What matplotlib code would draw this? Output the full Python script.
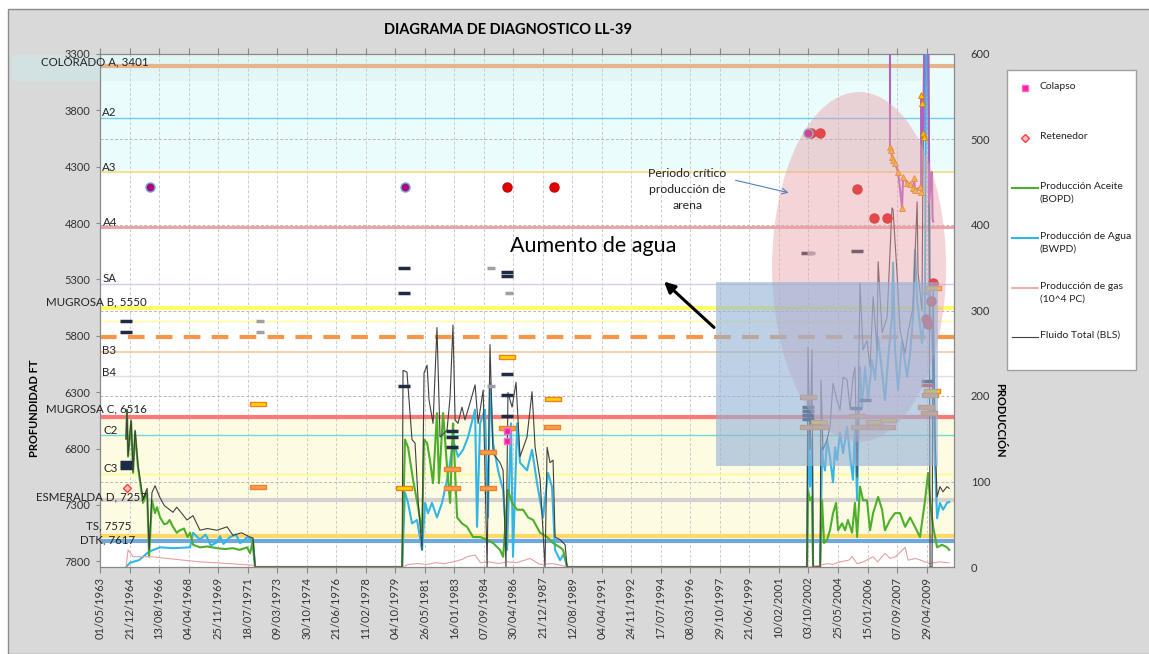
import datetime as dt

import matplotlib
matplotlib.use("Agg")
import matplotlib.dates as mdates
import matplotlib.pyplot as plt
import numpy as np
from matplotlib.lines import Line2D
from matplotlib.patches import Ellipse, Rectangle

plt.rcParams["font.family"] = ["Lato", "DejaVu Sans"]

W, H = 1149, 654

# ---- datos de produccion (tiempo en anos decimales, valores en eje derecho) ----
oil_t = [1964.78, 1964.83, 1964.89, 1965.06, 1965.17, 1965.28, 1965.44, 1965.72, 1965.95, 1966.06,
         1966.22, 1966.39, 1966.50, 1966.67, 1966.90, 1967.06, 1967.20, 1967.39, 1967.60, 1967.78,
         1968.00, 1968.20, 1968.34, 1968.51, 1968.89, 1969.30, 1969.84, 1970.30, 1970.73, 1971.10,
         1971.51, 1971.68, 1971.84, 1971.96,
         1980.14, 1980.30, 1980.47, 1980.75, 1981.03, 1981.25, 1981.36, 1981.53, 1981.69, 1981.86,
         1982.08, 1982.19, 1982.42, 1982.64, 1982.81, 1982.97, 1983.20, 1983.47, 1983.75, 1984.09,
         1984.48, 1984.87, 1985.20, 1985.59, 1985.76, 1986.03, 1986.26, 1986.54, 1986.87, 1987.15,
         1987.43, 1987.82, 1988.21, 1988.54, 1988.93, 1989.10, 1989.32,
         2002.67, 2002.73, 2002.84, 2002.95, 2003.01, 2003.40, 2003.51, 2003.62, 2003.79, 2003.95,
         2004.12, 2004.29, 2004.40, 2004.62, 2004.79, 2004.95, 2005.18, 2005.34, 2005.46, 2005.62,
         2005.79, 2006.01, 2006.18, 2006.35, 2006.63, 2006.85, 2007.01, 2007.29, 2007.57, 2007.85,
         2008.13, 2008.41, 2008.68, 2008.96, 2009.24, 2009.41, 2009.52, 2009.69, 2009.91, 2010.19,
         2010.46, 2010.58]
oil_v = [150, 184, 129, 170, 110, 158, 117, 75, 87, 12,
         78, 63, 70, 58, 50, 51, 55, 47, 40, 43,
         45, 35, 40, 26, 23, 24, 22, 21, 22, 20,
         23, 16, 32, 0,
         0, 149, 140, 102, 70, 40, 149, 145, 125, 98,
         180, 98, 180, 117, 75, 168, 58, 51, 47, 35,
         35, 32, 28, 20, 12, 90, 75, 67, 67, 58,
         55, 40, 35, 28, 23, 20, 0,
         0, 90, 78, 82, 0, 0, 78, 28, 32, 43,
         63, 75, 43, 51, 43, 55, 40, 75, 35, 94,
         78, 78, 43, 63, 82, 67, 43, 55, 63, 63,
         47, 58, 47, 35, 78, 110, 78, 47, 23, 26,
         23, 20]

water_t = [1964.78, 1965.00, 1965.50, 1966.06, 1966.67, 1967.39, 1968.34, 1968.51, 1968.89, 1969.20,
           1969.50, 1969.84, 1970.00, 1970.20, 1970.56, 1970.90, 1971.12, 1971.30, 1971.51, 1971.79,
           1971.96,
           1980.14, 1980.30, 1980.47, 1980.69, 1980.97, 1981.25, 1981.42, 1981.58, 1981.80, 1982.08,
           1982.36, 1982.64, 1982.81, 1982.97, 1983.25, 1983.53, 1983.81, 1984.20, 1984.31, 1984.48,
           1984.75, 1984.92, 1985.03, 1985.20, 1985.48, 1985.76, 1985.98, 1986.20, 1986.31, 1986.54,
           1986.70, 1987.09, 1987.37, 1987.65, 1987.98, 1988.26, 1988.48, 1988.65, 1988.93, 1989.10,
           1989.21, 1989.32,
           2002.67, 2002.73, 2002.84, 2002.95, 2003.01, 2003.40, 2003.51, 2003.56, 2003.67, 2003.79,
           2003.95, 2004.12, 2004.23, 2004.34, 2004.51, 2004.68, 2004.90, 2005.07, 2005.23, 2005.34,
           2005.46, 2005.51, 2005.62, 2005.73, 2005.90, 2006.07, 2006.29, 2006.46, 2006.63, 2006.85,
           2007.01, 2007.18, 2007.40, 2007.46, 2007.57, 2007.74, 2007.96, 2008.24, 2008.41, 2008.57,
           2008.68, 2008.80, 2009.07, 2009.24, 2009.30, 2009.41, 2009.52, 2009.69, 2009.80, 2009.91,
           2010.07, 2010.24, 2010.46, 2010.58]
water_v = [0, 5, 8, 18, 23, 22, 23, 40, 32, 38,
           25, 29, 36, 27, 35, 38, 28, 30, 35, 32,
           0,
           0, 87, 75, 51, 55, 20, 75, 63, 75, 58,
           75, 102, 122, 149, 129, 137, 152, 184, 47, 168,
           184, 58, 216, 145, 113, 90, 20, 168, 12, 168,
           122, 113, 137, 98, 58, 110, 94, 20, 8, 14,
           10, 0,
           0, 164, 94, 150, 0, 0, 140, 125, 113, 149,
           129, 99, 140, 125, 157, 133, 164, 129, 102, 164,
           78, 137, 234, 187, 234, 195, 242, 219, 269, 227,
           195, 242, 292, 356, 254, 207, 265, 222, 250, 292,
           371, 312, 262, 300, 650, 650, 300, 250, 120, 57,
           75, 67, 75, 76]

gas_t = [1964.78, 1964.89, 1965.17, 1966.22, 1967.06, 1968.89, 1970.50, 1971.84, 1971.96,
         1980.14, 1980.50, 1981.00, 1981.50, 1982.00, 1982.50, 1983.00, 1983.50, 1983.75, 1984.20,
         1984.50, 1985.00, 1985.50, 1986.00, 1986.50, 1987.26, 1987.80, 1988.50, 1989.00, 1989.32,
         2002.67, 2003.40, 2003.80, 2004.10, 2004.50, 2005.00, 2005.18, 2005.46, 2005.80, 2006.35,
         2006.60, 2007.01, 2007.30, 2007.60, 2008.13, 2008.30, 2008.70, 2009.00, 2009.50, 2010.00,
         2010.58]
gas_v = [0, 20, 12, 12, 10, 6, 4, 2, 0,
         0, 3, 4, 3, 5, 4, 6, 9, 12, 14,
         5, 6, 4, 6, 5, 10, 3, 4, 2, 0,
         0, 2, 4, 3, 6, 8, 12, 4, 6, 12,
         6, 16, 10, 12, 23, 8, 10, 8, 4, 6,
         5]

total_t = [1964.78, 1964.83, 1964.89, 1965.06, 1965.17, 1965.28, 1965.44, 1965.72, 1965.95, 1966.06,
           1966.22, 1966.39, 1966.67, 1966.90, 1967.39, 1967.60, 1968.17, 1968.50, 1968.89, 1969.30,
           1969.84, 1970.40, 1970.73, 1971.20, 1971.68, 1971.84, 1971.96,
           1980.14, 1980.19, 1980.41, 1980.69, 1980.86, 1981.03, 1981.25, 1981.36, 1981.53, 1981.64,
           1981.86, 1982.08, 1982.25, 1982.64, 1982.81, 1982.97, 1983.09, 1983.25, 1983.47, 1983.64,
           1983.92, 1984.20, 1984.37, 1984.65, 1984.87, 1985.03, 1985.20, 1985.59, 1985.76, 1985.92,
           1986.03, 1986.26, 1986.48, 1986.70, 1987.09, 1987.37, 1987.54, 1987.82, 1988.09, 1988.21,
           1988.37, 1988.54, 1988.65, 1988.93, 1989.21, 1989.32,
           2002.67, 2002.73, 2002.84, 2002.95, 2003.01, 2003.40, 2003.45, 2003.56, 2003.79, 2003.95,
           2004.12, 2004.34, 2004.51, 2004.68, 2004.90, 2005.07, 2005.23, 2005.34, 2005.46, 2005.62,
           2005.79, 2006.01, 2006.18, 2006.35, 2006.57, 2006.63, 2006.85, 2007.13, 2007.40, 2007.46,
           2007.68, 2007.85, 2008.13, 2008.29, 2008.57, 2008.80, 2008.85, 2009.07, 2009.18, 2009.41,
           2009.46, 2009.52, 2009.63, 2009.69, 2009.80, 2009.91, 2010.07, 2010.24, 2010.46, 2010.58]
total_v = [150, 184, 130, 172, 112, 160, 120, 80, 92, 20,
           87, 95, 81, 72, 64, 70, 55, 60, 43, 45,
           43, 47, 37, 40, 35, 34, 0,
           0, 230, 228, 149, 145, 78, 20, 227, 236, 195,
           168, 280, 152, 160, 199, 283, 172, 168, 187, 172,
           192, 213, 168, 207, 0, 260, 133, 122, 113, 0,
           204, 187, 216, 129, 152, 205, 140, 102, 0, 140,
           122, 125, 35, 32, 26, 0,
           0, 257, 137, 254, 0, 0, 219, 137, 149, 164,
           215, 195, 184, 222, 219, 184, 222, 234, 105, 332,
           254, 265, 234, 316, 254, 357, 274, 292, 420, 418,
           344, 277, 250, 274, 304, 427, 344, 300, 650, 650,
           420, 0, 0, 330, 150, 82, 94, 88, 94, 92]

# nivel (linea morada con triangulos), eje derecho
nivel_t = [2007.29, 2007.29, 2007.35, 2007.40, 2007.46, 2007.57, 2007.74, 2007.96, 2008.02, 2008.24,
           2008.41, 2008.57, 2008.63, 2008.68, 2008.96, 2009.02, 2009.02, 2009.07, 2009.13, 2009.16,
           2009.20, 2009.41, 2009.46, 2009.60, 2009.63, 2009.66, 2009.69]
nivel_v = [650, 491, 488, 480, 476, 473, 462, 420, 456, 449,
           448, 443, 455, 441, 444, 439, 552, 543, 508, 503,
           650, 650, 426, 462, 449, 408, 404]

# ---- marcadores sobre eje de profundidad ----
red_t = [1985.98, 1988.60, 2002.90, 2003.40, 2005.46, 2006.40, 2007.13, 2009.69, 2009.57, 2009.30, 2009.41]
red_d = [4480, 4480, 4001, 4001, 4498, 4755, 4755, 5332, 5492, 5651, 5696]
purple_t = [1966.11, 1980.30, 2002.73]
purple_d = [4480, 4480, 4001]

navy_t = [1964.78, 1964.78, 1964.78, 1964.78, 1964.78,
          1980.25, 1980.25, 1980.25,
          1985.98, 1985.98, 1985.98, 1985.98, 1985.98,
          1982.92, 1982.92, 1982.92,
          2002.67, 2005.46, 2002.73, 2002.73, 2002.73, 2002.73,
          2005.40, 2005.90, 2009.35]
navy_d = [5665, 5763, 6920, 6947, 6973,
          5199, 5421, 6246,
          5234, 5270, 6139, 6326, 6512,
          6645, 6698, 6787,
          5066, 5048, 6432, 6468, 6503, 6539,
          6441, 6370, 6201]
gray_t = [1972.23, 1972.23, 1985.09, 1986.09, 1985.09, 2002.90, 2009.30]
gray_d = [5665, 5763, 5199, 5421, 6246, 5066, 5421]
reddash_t = [2009.35]
reddash_d = [6237]

yellow_t = [1972.12, 1980.25, 1985.98, 1988.54, 2009.63, 2009.69, 2003.34, 2006.40, 2007.18]
yellow_d = [6406, 7151, 5989, 6361, 6290, 5376, 6565, 6565, 6547]
orange_t = [1972.12, 1982.92, 1982.92, 1984.92, 1984.92, 1985.98, 1988.48,
            2002.73, 2002.73, 2003.40, 2005.46, 2005.57, 2006.46, 2007.13, 2009.30, 2009.46, 2009.52]
orange_d = [7142, 6982, 7151, 6831, 7151, 6619, 6610,
            6343, 6610, 6610, 6512, 6610, 6610, 6610, 6432, 6485, 6326]

colapso_t = [1985.98, 1985.98]
colapso_d = [6645, 6733]
retenedor_t = [1964.83]
retenedor_d = [7151]

# ---- formaciones ----
form_names = ["COLORADO A, 3401", "A2", "A3", "A4", "SA", "MUGROSA B, 5550", "", "", "B3", "B4",
              "MUGROSA C, 6516", "C2", "C3", "ESMERALDA D, 7257", "TS, 7575", "DTK, 7617"]
form_depth = [3406, 3868, 4348, 4836, 5343, 5554, 5671, 5813, 5946, 6160,
              6516, 6675, 7022, 7252, 7572, 7616]
form_color = ["#e8b48c", "#6fcdf5", "#ffd97a", "#e8a0a0", "#d8c8e8", "#ffff66", "#ffff99", "#f79646",
              "#f8c8a0", "#e0e0e0", "#ff7878", "#70d8e0", "#ffff80", "#d8d0d0", "#ffd966", "#6fa8dc"]
form_lw = [3, 1, 1.2, 2, 1, 3, 1, 3, 1.2, 1, 3, 1, 1, 3, 3, 3]
# posicion de las etiquetas en pixeles de la figura (x izquierda, y centro)
label_px = [(41, 62), (102, 112), (102, 167), (103, 222), (103, 279), (46, 302), None, None,
            (102, 350), (102, 373), (46, 409), (103, 431), (103, 469), (36, 497), (86, 526), (80, 540)]

depth_ticks = [3300, 3800, 4300, 4800, 5300, 5800, 6300, 6800, 7300, 7800]
prod_ticks = [0, 100, 200, 300, 400, 500, 600]


def yr(v):
    return (np.asarray(v, dtype=float) - 1970.0) * 365.25


def px(x, y):
    return x / W, 1 - y / H


fig = plt.figure(figsize=(W / 100, H / 100), dpi=100, facecolor="white")
fig.add_artist(Rectangle((8 / W, 0), 1, 1 - 9 / H, transform=fig.transFigure,
                         facecolor="#d9d9d9", edgecolor="#8c8c8c", lw=1, zorder=-10))
fig.add_artist(Rectangle(px(12, 81), 88 / W, 26 / H, transform=fig.transFigure,
                         facecolor="#d2e2e2", edgecolor="none", zorder=-9))

ax = fig.add_axes([100 / W, 1 - 567 / H, 854 / W, 513 / H])
ax.set_facecolor("white")
x0 = mdates.date2num(dt.datetime(1963, 5, 1))
xticks = [x0 + 600 * k for k in range(29)]
ax.set_xlim(x0, x0 + 17358)
ax.set_ylim(7850, 3300)

# bandas
ax.axhspan(3300, 4348, color="#ebfcfc", zorder=0)
ax.fill_between([x0, yr(2009.27)], 3300, 3540, color="#e2f6f6", zorder=0, lw=0)
ax.axhspan(6516, 7575, color="#fdfce2", zorder=0)

for name, d, c, lw in zip(form_names, form_depth, form_color, form_lw):
    if c == "#f79646":
        ax.axhline(d, color=c, lw=lw, dashes=(4, 2.7), zorder=1)
    else:
        ax.axhline(d, color=c, lw=lw, zorder=1)
for name, pos in zip(form_names, label_px):
    if pos:
        fig.text(*px(*pos), name, fontsize=8.3, color="#222222", ha="left", va="center", zorder=5)

ax.set_xticks(xticks)
ax.xaxis.set_major_formatter(mdates.DateFormatter("%d/%m/%Y"))
for lab in ax.get_xticklabels():
    lab.set_rotation(90)
ax.tick_params(axis="x", labelsize=8, colors="#333333", length=4, pad=3, top=True, color="#888888")
ax.set_yticks(depth_ticks)
ax.tick_params(axis="y", labelsize=8, colors="#333333", length=3, pad=4, color="#888888")
ax.grid(axis="x", color="#cccccc", ls=(0, (3, 2)), lw=0.7)
ax.set_axisbelow(True)
for s in ax.spines.values():
    s.set_color("#888888")

ax2 = ax.twinx()
ax2.set_ylim(0, 600)
ax2.set_yticks(prod_ticks)
ax2.tick_params(axis="y", labelsize=8, colors="#333333", length=0, pad=12)
ax2.grid(axis="y", color="#b8b8b8", ls=(0, (3, 2)), lw=0.7)
for s in ax2.spines.values():
    s.set_color("#888888")

ax2.plot(yr(water_t), water_v, color="#33b5e5", lw=1.5, zorder=3)
ax2.plot(yr(oil_t), oil_v, color="#4caf2a", lw=1.5, zorder=3)
ax2.plot(yr(gas_t), gas_v, color="#e8a0a0", lw=0.8, zorder=3)
ax2.plot(yr(total_t), total_v, color="#404040", lw=0.8, zorder=4)
ax2.plot(yr(nivel_t), nivel_v, color="#b060c0", lw=1.5, zorder=4)
ax2.plot(yr(nivel_t[1:20]), nivel_v[1:20], ls="none", marker="^", ms=4, mfc="#ffc000",
         mec="#e08000", mew=0.6, zorder=5)

ax3 = ax.twinx()
ax3.set_ylim(7850, 3300)
ax3.axis("off")
bar = [(-1, -0.3), (1, -0.3), (1, 0.3), (-1, 0.3), (-1, -0.3)]
ax3.plot(yr(red_t), red_d, ls="none", marker="o", ms=6.5, mfc="#e00000", mec="#d00000", zorder=6)
ax3.plot(yr(purple_t), purple_d, ls="none", marker="o", ms=6.5, mfc="#b0007a", mec="#6fa8dc", zorder=6)
ax3.plot(yr(navy_t), navy_d, ls="none", marker="_", ms=8, mew=2.5, color="#1f2a44", zorder=6)
ax3.plot(yr(gray_t), gray_d, ls="none", marker="_", ms=6, mew=2.5, color="#a0a0a0", zorder=6)
ax3.plot(yr(reddash_t), reddash_d, ls="none", marker="_", ms=8, mew=2.5, color="#e03030", zorder=6)
ax3.plot(yr(yellow_t), yellow_d, ls="none", marker=bar, ms=11, mfc="#ffd500", mec="#f08020", mew=1, zorder=6)
ax3.plot(yr(orange_t), orange_d, ls="none", marker=bar, ms=11, mfc="#f6a04d", mec="#f08030", mew=1, zorder=6)
ax3.plot(yr(colapso_t), colapso_d, ls="none", marker="s", ms=5, mfc="#ff1fa0", mec="#ff66cc", zorder=6)
ax3.plot(yr(retenedor_t), retenedor_d, ls="none", marker="D", ms=4.5, mfc="#ffc0c0", mec="#ff4040", zorder=6)

# formas de anotacion (en coordenadas de produccion)
ax4 = ax.twinx()
ax4.set_ylim(0, 600)
ax4.axis("off")
ax4.add_patch(Ellipse((yr(2005.57), 351), 9.68 * 365.25, 409, facecolor="#e8a0a8", alpha=0.45,
                      edgecolor="none", zorder=1))
ax4.add_patch(Rectangle((yr(1997.61), 118), yr(2009.96) - yr(1997.61), 215, facecolor="#95b3d7",
                        alpha=0.62, edgecolor="none", zorder=2))
ax4.annotate("", xy=(yr(1994.60), 336), xytext=(yr(1997.61), 278),
             arrowprops=dict(arrowstyle="-|>", color="black", lw=2.2, mutation_scale=16), zorder=3)
ax4.text(yr(1990.77), 375, "Aumento de agua", fontsize=15.5, ha="center", va="center", zorder=3)
ax4.text(yr(1996.0), 442, "Periodo crítico\nproducción de\narena", fontsize=8.8, ha="center",
         va="center", linespacing=1.55, color="#222222", zorder=3)
ax4.annotate("", xy=(yr(2001.80), 437), xytext=(yr(1998.55), 453),
             arrowprops=dict(arrowstyle="->", color="#4f81bd", lw=0.8, mutation_scale=10), zorder=3)

fig.text(*px(508, 30), "DIAGRAMA DE DIAGNOSTICO LL-39", fontsize=10.5, fontweight="bold",
         ha="center", va="center")
fig.text(*px(35, 408), "PROFUNDIDAD FT", fontsize=8, fontweight="bold", rotation=90,
         ha="center", va="center")
fig.text(*px(1000, 420), "PRODUCCIÓN", fontsize=8, fontweight="bold", rotation=-90,
         ha="center", va="center")

# leyenda
fig.add_artist(Rectangle(px(1007, 370), 129 / W, 300 / H, transform=fig.transFigure,
                         facecolor="white", edgecolor="#a0a0a0", lw=1))
leg_items = [
    ("Colapso", dict(marker="s", ms=5, mfc="#ff1fa0", mec="#ff66cc", ls="none"), 88),
    ("Retenedor", dict(marker="D", ms=4.5, mfc="#ffc0c0", mec="#ff4040", ls="none"), 138),
    ("Producción Aceite\n(BOPD)", dict(color="#4caf2a", lw=1.5), 188),
    ("Producción de Agua\n(BWPD)", dict(color="#33b5e5", lw=1.5), 238),
    ("Producción de gas\n(10^4 PC)", dict(color="#e8a0a0", lw=1.2), 288),
    ("Fluido Total (BLS)", dict(color="#404040", lw=0.8), 337),
]
for text, style, y in leg_items:
    if style.get("ls") == "none":
        fig.add_artist(Line2D([1025 / W], [1 - y / H], transform=fig.transFigure, **style))
    else:
        fig.add_artist(Line2D([1012 / W, 1038 / W], [1 - y / H] * 2, transform=fig.transFigure, **style))
    fig.text(1040 / W, 1 - (y - 6) / H, text, fontsize=7.5, ha="left", va="top", linespacing=1.45,
             color="#222222")

fig.savefig("out.png", dpi=100)
